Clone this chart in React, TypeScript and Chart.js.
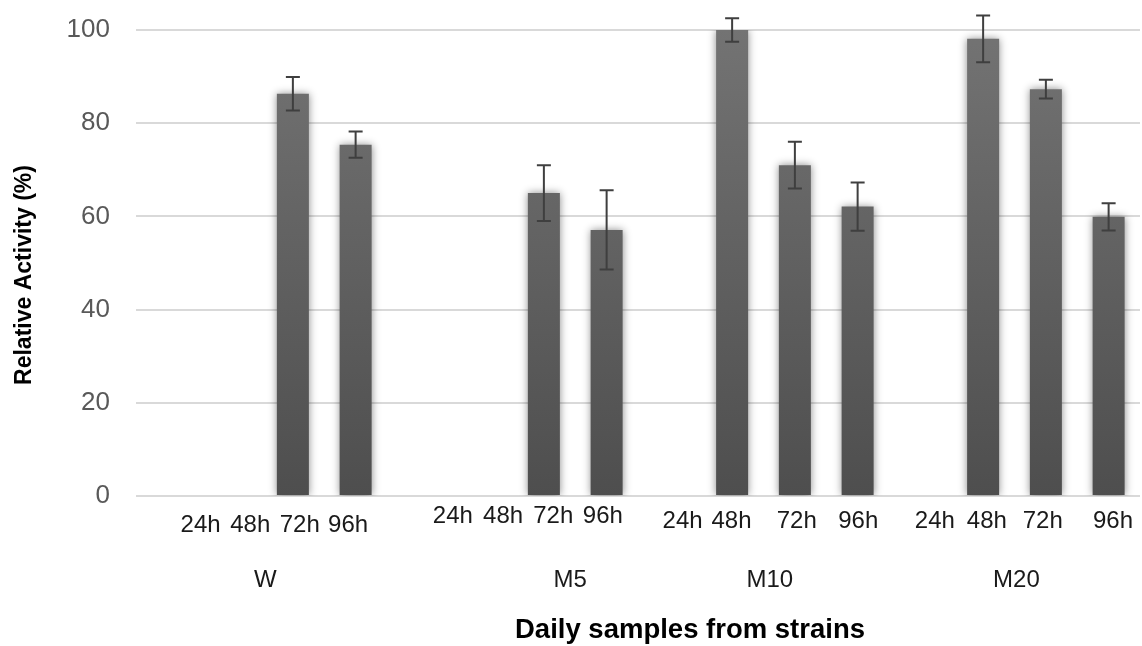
import React, { useEffect, useRef } from "react";
import { Chart, registerables } from "chart.js";
Chart.register(...registerables);

// ---- data ----
const strains = ["W", "M5", "M10", "M20"];
const timepoints = ["24h", "48h", "72h", "96h"];
const activity: (number | null)[] = [
  null, null, 86.3, 75.4,
  null, null, 65.0, 57.1,
  null, 100.0, 71.0, 62.1,
  null, 98.1, 87.3, 59.9,
];
const errors = [
  0, 0, 3.6, 2.8,
  0, 0, 6.0, 8.5,
  0, 2.5, 5.0, 5.2,
  0, 5.0, 2.0, 2.9,
];
const yMin = 0;
const yMax = 100;
const yStep = 20;
const yTitle = "Relative Activity (%)";
const xTitle = "Daily samples from strains";

// ---- label layout (in category units) ----
const timeLabelPos = [
  [0.53, 1.32, 2.11, 2.88],
  [4.55, 5.35, 6.15, 6.94],
  [8.21, 8.99, 10.03, 11.01],
  [12.23, 13.06, 13.95, 15.07],
];
const timeLabelY = [525, 516, 521, 521];
const strainLabelPos = [1.56, 6.42, 9.6, 13.53];
const strainLabelY = 580;

const FONT = '"Liberation Sans", Arial, Helvetica, sans-serif';

const categories = strains.flatMap((s) => timepoints.map((t) => `${s} ${t}`));

const shadowAndErrors = {
  id: "shadowAndErrors",
  beforeDatasetsDraw(chart: any) {
    const ctx = chart.ctx;
    ctx.save();
    ctx.shadowColor = "rgba(0,0,0,0.45)";
    ctx.shadowBlur = 8;
    ctx.shadowOffsetX = 0;
    ctx.shadowOffsetY = 0;
  },
  afterDatasetsDraw(chart: any) {
    const ctx = chart.ctx;
    ctx.restore();
    const meta = chart.getDatasetMeta(0);
    const y = chart.scales.y;
    ctx.save();
    ctx.strokeStyle = "#3f3f3f";
    ctx.lineWidth = 2;
    meta.data.forEach((bar: any, i: number) => {
      const v = activity[i];
      const e = errors[i];
      if (v == null || !e) return;
      const x = bar.x;
      const top = y.getPixelForValue(v + e);
      const bot = y.getPixelForValue(v - e);
      ctx.beginPath();
      ctx.moveTo(x, top);
      ctx.lineTo(x, bot);
      ctx.moveTo(x - 7, top);
      ctx.lineTo(x + 7, top);
      ctx.moveTo(x - 7, bot);
      ctx.lineTo(x + 7, bot);
      ctx.stroke();
    });
    ctx.restore();
  },
};

const labelsPlugin = {
  id: "labelsPlugin",
  afterDraw(chart: any) {
    const ctx = chart.ctx;
    const x = chart.scales.x;
    ctx.save();
    ctx.textAlign = "center";
    ctx.textBaseline = "middle";
    ctx.fillStyle = "#1a1a1a";
    ctx.font = `24px ${FONT}`;
    timepoints.forEach((t, ti) => {
      strains.forEach((s, si) => {
        ctx.fillText(t, x.getPixelForValue(timeLabelPos[si][ti]), timeLabelY[si]);
      });
    });
    ctx.fillStyle = "#1a1a1a";
    strains.forEach((s, si) => {
      ctx.fillText(s, x.getPixelForValue(strainLabelPos[si]), strainLabelY);
    });
    // axis titles
    ctx.fillStyle = "#000000";
    ctx.font = `bold 27.5px ${FONT}`;
    ctx.fillText(xTitle, 690, 630);
    ctx.translate(25, 275);
    ctx.rotate(-Math.PI / 2);
    ctx.font = `bold 23px ${FONT}`;
    ctx.fillText(yTitle, 0, 0);
    ctx.restore();
  },
};

export default function App() {
  const ref = useRef<HTMLCanvasElement | null>(null);
  useEffect(() => {
    document.body.style.margin = "0";
    if (!ref.current) return;
    const chart = new Chart(ref.current, {
      type: "bar",
      data: {
        labels: categories,
        datasets: [
          {
            data: activity as any,
            backgroundColor: (c: any) => {
              const area = c.chart.chartArea;
              if (!area) return "#5f5f5f";
              const g = c.chart.ctx.createLinearGradient(0, area.top, 0, area.bottom);
              g.addColorStop(0, "#737373");
              g.addColorStop(1, "#4e4e4e");
              return g;
            },
            borderWidth: 0,
            categoryPercentage: 1,
            barPercentage: 0.51,
          },
        ],
      },
      options: {
        responsive: false,
        animation: false,
        layout: { padding: { top: 30, right: 2, bottom: 150, left: 0 } },
        plugins: {
          legend: { display: false },
          tooltip: { enabled: false },
        },
        scales: {
          x: {
            display: false,
          },
          y: {
            min: yMin,
            max: yMax,
            ticks: {
              stepSize: yStep,
              color: "#595959",
              font: { family: FONT, size: 26 },
              padding: 26,
            },
            grid: { color: "#d9d9d9", lineWidth: 2, drawTicks: false },
            border: { display: false },
            afterFit: (scale: any) => {
              scale.width = 136;
              scale.paddingTop = 0;
              scale.paddingBottom = 0;
            },
          },
        },
      },
      plugins: [shadowAndErrors, labelsPlugin],
    });
    return () => chart.destroy();
  }, []);
  return (
    <div style={{ position: "absolute", left: 0, top: 0, width: 1142, height: 646, background: "#fff" }}>
      <canvas ref={ref} width={1142} height={646} style={{ display: "block" }} />
    </div>
  );
}
